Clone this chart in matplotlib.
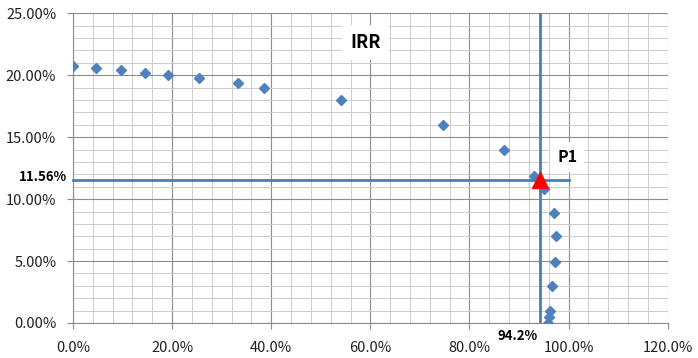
import matplotlib
matplotlib.use("Agg")
import matplotlib.pyplot as plt
import numpy as np
from matplotlib.ticker import MultipleLocator, FuncFormatter

plt.rcParams['font.family'] = ['Noto Sans CJK KR', 'DejaVu Sans']

# data (percent)
x_vals = [0.0, 4.6, 9.7, 14.5, 19.2, 25.5, 33.3, 38.6, 54.1, 74.7, 86.9, 93.1,
          95.0, 97.0, 97.4, 97.2, 96.7, 96.2, 96.0, 95.9]
y_vals = [20.75, 20.6, 20.4, 20.2, 20.0, 19.75, 19.35, 18.95, 18.0, 16.0, 13.95, 11.9,
          10.85, 8.9, 7.0, 4.95, 3.0, 1.0, 0.45, 0.0]
p1_x = 94.2
p1_y = 11.56
title_text = "IRR"
point_label = "P1"

blue = '#4F81BD'
line_blue = '#4A7EBB'

fig = plt.figure(figsize=(6.98, 3.58), dpi=100)
ax = fig.add_axes([0.1046, 0.0978, 0.852, 0.865])

ax.set_xlim(0, 120)
ax.set_ylim(0, 25)
ax.xaxis.set_major_locator(MultipleLocator(20))
ax.xaxis.set_minor_locator(MultipleLocator(4))
ax.yaxis.set_major_locator(MultipleLocator(5))
ax.yaxis.set_minor_locator(MultipleLocator(1))
ax.xaxis.set_major_formatter(FuncFormatter(lambda v, p: f"{v:.1f}%"))
ax.yaxis.set_major_formatter(FuncFormatter(lambda v, p: f"{v:.2f}%"))
ax.grid(which='major', color='#8c8c8c', linewidth=0.8)
ax.grid(which='minor', color='#cccccc', linewidth=0.7)
ax.set_axisbelow(True)
for s in ['top', 'right']:
    ax.spines[s].set_visible(False)
for s in ['left', 'bottom']:
    ax.spines[s].set_color('#8c8c8c')
    ax.spines[s].set_linewidth(0.8)
ax.tick_params(which='major', length=4, color='#8c8c8c', labelsize=10.5,
               labelcolor='#202020')
ax.tick_params(which='minor', length=0)
ax.tick_params(axis='y', pad=8)
ax.tick_params(axis='x', pad=9)

ax.plot(x_vals, y_vals, linestyle='none', marker='D', markersize=5.5,
        color=blue, zorder=3)

ax.plot([0, 100], [p1_y, p1_y], color=line_blue, linewidth=2, zorder=4, clip_on=False)
ax.plot([p1_x, p1_x], [0, 25], color=line_blue, linewidth=2, zorder=4)
ax.plot([p1_x], [p1_y], marker='^', markersize=11, color='red', zorder=5, clip_on=False)

ax.text(59, 22.65, title_text, fontsize=13, fontweight='bold', ha='center', va='center',
        bbox=dict(facecolor='white', edgecolor='none', pad=6), zorder=6)
ax.text(99.7, 13.4, point_label, fontsize=11.5, fontweight='bold', ha='center', va='center',
        bbox=dict(facecolor='white', edgecolor='none', pad=5), zorder=6)
ax.text(-1.2, p1_y + 0.2, f"{p1_y:.2f}%", fontsize=9.5, fontweight='bold', ha='right',
        va='center', clip_on=False)
ax.text(p1_x - 0.5, -0.45, f"{p1_x:.1f}%", fontsize=9.5, fontweight='bold', ha='right',
        va='top', clip_on=False)

fig.savefig('out.png', dpi=100)
